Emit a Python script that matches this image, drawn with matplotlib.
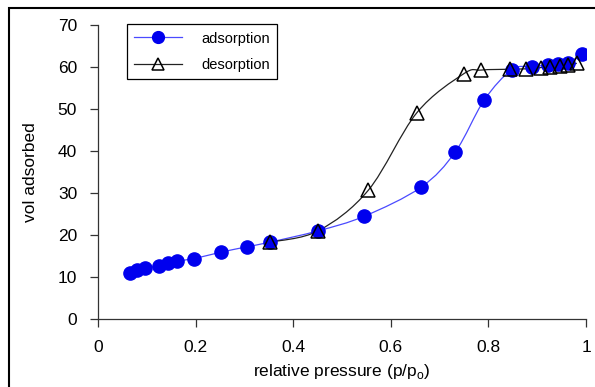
import numpy as np
import matplotlib
matplotlib.use("Agg")
import matplotlib.pyplot as plt
from matplotlib.path import Path
from matplotlib.patches import PathPatch, Rectangle

plt.rcParams['font.family'] = ['Liberation Sans', 'DejaVu Sans']
plt.rcParams['mathtext.fontset'] = 'custom'
plt.rcParams['mathtext.rm'] = 'Liberation Sans'

# isotherm data
ads_p = [0.066, 0.079, 0.096, 0.124, 0.144, 0.161, 0.197, 0.251, 0.305, 0.352,
         0.451, 0.546, 0.662, 0.732, 0.791, 0.848, 0.889, 0.923, 0.943, 0.963, 0.991]
ads_v = [11.0, 11.7, 12.1, 12.7, 13.4, 13.8, 14.4, 15.9, 17.2, 18.3,
         21.0, 24.5, 31.4, 39.8, 52.1, 59.4, 60.1, 60.5, 60.7, 61.0, 63.1]

des_p = [0.352, 0.451, 0.554, 0.653, 0.749, 0.785, 0.844, 0.877, 0.908, 0.926, 0.947, 0.963, 0.981]
des_v = [18.3, 21.0, 30.7, 49.1, 58.4, 59.3, 59.5, 59.6, 59.9, 60.1, 60.3, 60.5, 60.9]

x_ticks = [0, 0.2, 0.4, 0.6, 0.8, 1]
x_tick_labels = ['0', '0.2', '0.4', '0.6', '0.8', '1']
y_ticks = [0, 10, 20, 30, 40, 50, 60, 70]


def smooth_path(xs, ys):
    # Catmull-Rom through the points, as cubic Bezier segments (like Excel's smoothed line)
    pts = np.column_stack([xs, ys])
    ext = np.vstack([pts[0], pts, pts[-1]])
    verts = [pts[0]]
    codes = [Path.MOVETO]
    for i in range(1, len(ext) - 2):
        p0, p1, p2, p3 = ext[i - 1], ext[i], ext[i + 1], ext[i + 2]
        verts += [p1 + (p2 - p0) / 6, p2 - (p3 - p1) / 6, p2]
        codes += [Path.CURVE4] * 3
    return Path(verts, codes)


fig = plt.figure(figsize=(5.95, 3.87), dpi=100)
ax = fig.add_axes([0.1647, 0.1757, 0.8203, 0.7593])

ax.add_patch(PathPatch(smooth_path(ads_p, ads_v), fill=False, edgecolor='#4a4aff', lw=0.9))
ax.add_patch(PathPatch(smooth_path(des_p, des_v), fill=False, edgecolor='#222222', lw=0.9))

ax.plot(ads_p, ads_v, ls='none', marker='o', ms=9.5, color='#0000ee', mec='#0000ee')
ax.plot(des_p, des_v, ls='none', marker='^', ms=10, mfc='none', mec='black', mew=1.1)

# legend proxies
h1, = ax.plot([], [], color='#4a4aff', lw=0.9, marker='o', ms=8.5, mfc='#0000ee', mec='#0000ee')
h2, = ax.plot([], [], color='#222222', lw=0.9, marker='^', ms=9, mfc='none', mec='black', mew=1.1)
leg = ax.legend([h1, h2], ['adsorption', 'desorption'], loc='upper left',
                bbox_to_anchor=(0.059, 1.003), borderaxespad=0, frameon=True, fancybox=False,
                edgecolor='black', framealpha=1, fontsize=10.5, handlelength=3.3,
                handletextpad=1.3, borderpad=0.5, labelspacing=0.85)
leg.get_frame().set_linewidth(0.9)

ax.set_xlim(0, 1)
ax.set_ylim(0, 70)
ax.set_xticks(x_ticks)
ax.set_xticklabels(x_tick_labels)
ax.set_yticks(y_ticks)
ax.spines['top'].set_visible(False)
ax.spines['right'].set_visible(False)
for s in ['left', 'bottom']:
    ax.spines[s].set_linewidth(0.9)
    ax.spines[s].set_color('#333333')
ax.tick_params(direction='out', length=6, width=0.9, labelsize=12.5, colors='#333333',
               labelcolor='black', pad=9)

ax.set_xlabel('relative pressure (p/p$_\\mathrm{o}$)', fontsize=12.5, labelpad=5)
ax.set_ylabel('vol adsorbed', fontsize=12.5, labelpad=14)

# outer frame of the original figure
fig.patches.append(Rectangle((9 / 595, -0.1), 1.2, 1.1 - 8 / 387, transform=fig.transFigure,
                             fill=False, edgecolor='black', lw=1.5))

fig.savefig('out.png', dpi=100)
